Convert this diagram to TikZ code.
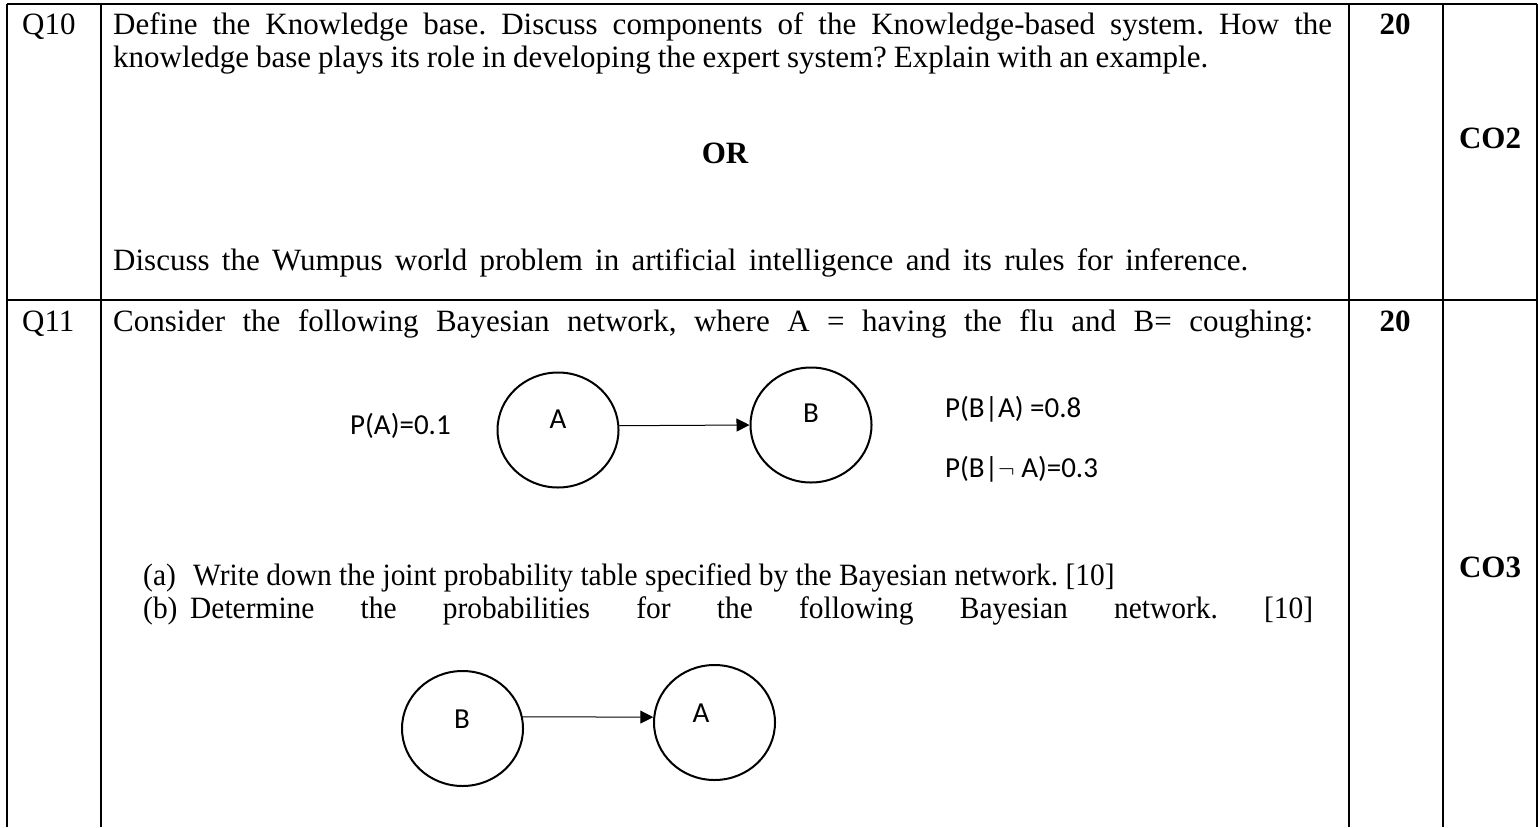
\documentclass[tikz,border=0pt]{standalone}
\usepackage{fontspec}
\usepackage{graphicx}
\setmainfont{Liberation Serif}
\newfontfamily\calfont{Carlito}
\usetikzlibrary{arrows.meta,shapes.geometric}
\frenchspacing
\newcommand{\cnd}[1]{\scalebox{0.95}[1]{#1}}
\begin{document}
\begin{tikzpicture}[x=1pt,y=-1pt,
  grid/.style={line width=2.2pt},
  txt/.style={anchor=base west,inner sep=0pt,font=\fontsize{31}{33}\selectfont\frenchspacing},
  bold/.style={anchor=base,inner sep=0pt,font=\fontsize{31}{33}\selectfont\bfseries},
  lbl/.style={anchor=base west,inner sep=0pt,font=\calfont\fontsize{29}{33}\selectfont},
  clbl/.style={anchor=base,inner sep=0pt,font=\calfont\fontsize{29}{33}\selectfont},
  bnode/.style={draw,line width=2pt,ellipse,minimum width=121pt,minimum height=115pt,inner sep=0pt},
  edge/.style={line width=1pt,-{Triangle[length=13pt,width=13pt]}}
]
\useasboundingbox (0,0) rectangle (1538,827);
% table
\draw[grid] (7,4) -- (1537,4);
\draw[grid] (7,300) -- (1537,300);
\foreach \x in {7,101,1349,1443,1537} \draw[grid] (\x,4) -- (\x,827);
% Q10 row
\node[txt] (q10) at (22,34) {Q10};
\node[txt] (q10a) at (113,34) {\makebox[1219pt][s]{Define the Knowledge base. Discuss components of the Knowledge-based system. How the}};
\node[txt] (q10b) at (113,67) {\makebox[1095pt][s]{knowledge base plays its role in developing the expert system? Explain with an example.}};
\node[bold] (m10) at (1395,34) {20};
\node[bold] (or) at (725,163) {OR};
\node[bold] (co2) at (1490,148) {CO2};
\node[txt] (q10c) at (113,270) {\makebox[1135pt][s]{Discuss the Wumpus world problem in artificial intelligence and its rules for inference.}};
% Q11 row
\node[txt] (q11) at (22,331) {Q11};
\node[txt] (q11a) at (113,331) {\makebox[1200pt][s]{Consider the following Bayesian network, where A = having the flu and B= coughing:}};
\node[bold] (m11) at (1395,331) {20};
\node[bold] (co3) at (1490,577) {CO3};
\node[txt] (pa) at (143,585) {\cnd{(a)}};
\node[txt] (pat) at (193,585) {\cnd{Write down the joint probability table specified by the Bayesian network. [10]}};
\node[txt] (pb) at (143,618) {\cnd{(b)}};
\node[txt] (pbt) at (190,618) {\makebox[1123pt][s]{\cnd{Determine} \cnd{the} \cnd{probabilities} \cnd{for} \cnd{the} \cnd{following} \cnd{Bayesian} \cnd{network.} \cnd{[10]}}};
% network 1
\node[bnode] (a1) at (558,430) {};
\node[bnode] (b1) at (811,425) {};
\node[clbl] (a1l) at (558,428) {A};
\node[clbl] (b1l) at (811,422) {B};
\draw[edge] (a1.4) -- (b1.west);
\node[lbl] (pA) at (350,434) {P(A)=0.1};
\node[lbl] (pBA) at (945,417) {P(B|A) =0.8};
\node[lbl] (pBnA) at (945,477) {P(B|$\neg$ A)=0.3};
% network 2
\node[bnode] (b2) at (462.5,728.5) {};
\node[bnode] (a2) at (714.5,722.5) {};
\node[clbl] (b2l) at (462,728) {B};
\node[clbl] (a2l) at (701,722) {A};
\draw[edge] (b2.11) -- (a2.175);
\end{tikzpicture}
\end{document}
